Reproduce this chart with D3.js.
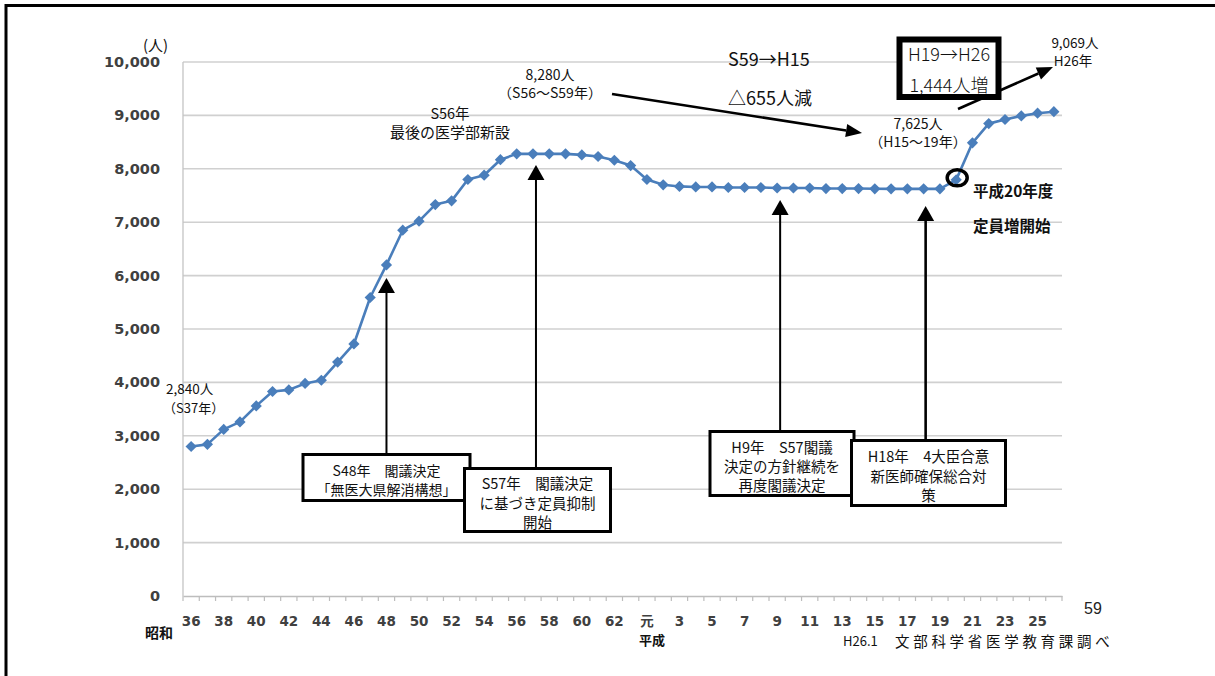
<!DOCTYPE html>
<html>
<head>
<meta charset="utf-8">
<script src="https://cdn.jsdelivr.net/npm/d3@7/dist/d3.min.js"></script>
<style>
  html, body { margin: 0; padding: 0; background: #fff; }
  svg { display: block; }
  .jp { font-family: "Noto Sans CJK JP", "Noto Sans", sans-serif; fill: #111; }
  .num { font-family: "DejaVu Sans", "Noto Sans CJK JP", sans-serif; font-weight: bold; fill: #404040; }
</style>
</head>
<body>
<svg id="chart" width="1215" height="676"></svg>
<script>
// 医学部入学定員の推移（昭和36年〜平成26年）
const categories = [
  "S36","S37","S38","S39","S40","S41","S42","S43","S44","S45",
  "S46","S47","S48","S49","S50","S51","S52","S53","S54","S55",
  "S56","S57","S58","S59","S60","S61","S62","S63","H1","H2",
  "H3","H4","H5","H6","H7","H8","H9","H10","H11","H12",
  "H13","H14","H15","H16","H17","H18","H19","H20","H21","H22",
  "H23","H24","H25","H26"
];
const enrollment = [
  2800, 2840, 3120, 3260, 3560, 3830, 3860, 3980, 4040, 4380,
  4720, 5590, 6200, 6850, 7020, 7330, 7400, 7800, 7880, 8170,
  8280, 8280, 8280, 8280, 8260, 8230, 8160, 8060, 7800, 7700,
  7670, 7660, 7660, 7650, 7650, 7650, 7640, 7640, 7640, 7630,
  7630, 7630, 7625, 7625, 7625, 7625, 7625, 7793, 8486, 8846,
  8923, 8991, 9041, 9069
];
// 軸目盛（1年おき）
const tickCategories = ["S36","S38","S40","S42","S44","S46","S48","S50","S52","S54",
  "S56","S58","S60","S62","H1","H3","H5","H7","H9","H11","H13","H15","H17","H19",
  "H21","H23","H25"];
const tickLabels = ["36","38","40","42","44","46","48","50","52","54",
  "56","58","60","62","元","3","5","7","9","11","13","15","17","19",
  "21","23","25"];
const yTickValues = [0, 1000, 2000, 3000, 4000, 5000, 6000, 7000, 8000, 9000, 10000];

const svg = d3.select("#chart");
const plot = { left: 183, right: 1062, top: 62, bottom: 596 };

const x = d3.scaleBand().domain(categories).range([plot.left, plot.right]);
const cx = c => x(c) + x.bandwidth() / 2;
const y = d3.scaleLinear().domain([0, 10000]).range([plot.bottom, plot.top]);

// 外枠（上・左）
svg.append("path")
  .attr("d", "M6,676V5.5H1215")
  .attr("fill", "none").attr("stroke", "#000").attr("stroke-width", 3);

// 目盛線
svg.append("g").selectAll("line").data(yTickValues.filter(v => v > 0)).join("line")
  .attr("x1", plot.left).attr("x2", plot.right)
  .attr("y1", d => y(d)).attr("y2", d => y(d))
  .attr("stroke", "#d0d0d0").attr("stroke-width", 1.6);

// 縦軸
svg.append("line")
  .attr("x1", plot.left).attr("x2", plot.left)
  .attr("y1", plot.top).attr("y2", plot.bottom)
  .attr("stroke", "#c4c4c4").attr("stroke-width", 1.3);

// 横軸と目盛
const xAxis = d3.axisBottom(x).tickSize(0).tickFormat("");
svg.append("g").attr("transform", `translate(0,${plot.bottom})`).call(xAxis)
  .call(g => g.select(".domain").attr("stroke", "#bdbdbd").attr("stroke-width", 1.6));
svg.append("g").selectAll("line").data(categories.concat([null])).join("line")
  .attr("x1", d => d ? x(d) : plot.right)
  .attr("x2", d => d ? x(d) : plot.right)
  .attr("y1", plot.bottom).attr("y2", plot.bottom + 5)
  .attr("stroke", "#bdbdbd").attr("stroke-width", 1.2);

// 縦軸ラベル
svg.append("g").selectAll("text").data(yTickValues).join("text")
  .attr("class", "num")
  .attr("x", 160).attr("y", d => y(d))
  .attr("text-anchor", "end").attr("dominant-baseline", "central")
  .attr("font-size", 14.5)
  .text(d3.format(","));

// 横軸ラベル
svg.append("g").selectAll("text").data(tickCategories).join("text")
  .attr("class", "num")
  .attr("x", d => cx(d)).attr("y", 621)
  .attr("text-anchor", "middle").attr("dominant-baseline", "central")
  .attr("font-size", 13.5)
  .text((d, i) => tickLabels[i]);

svg.append("text").attr("class", "jp").attr("x", 143).attr("y", 44)
  .attr("dominant-baseline", "central").attr("font-size", 15).attr("fill", "#333")
  .text("(人)");
svg.append("text").attr("class", "jp").attr("x", 159).attr("y", 632)
  .attr("text-anchor", "middle").attr("dominant-baseline", "central")
  .attr("font-size", 14).attr("font-weight", "bold").text("昭和");
svg.append("text").attr("class", "jp").attr("x", cx("H1") + 5).attr("y", 639)
  .attr("text-anchor", "middle").attr("dominant-baseline", "central")
  .attr("font-size", 13).attr("font-weight", "bold").text("平成");
svg.append("text").attr("x", 1093).attr("y", 608)
  .attr("text-anchor", "middle").attr("dominant-baseline", "central")
  .attr("font-family", "Liberation Sans, sans-serif").attr("font-size", 16).attr("fill", "#222")
  .text("59");
svg.append("text").attr("class", "jp").attr("x", 843).attr("y", 640)
  .attr("dominant-baseline", "central").attr("font-size", 13)
  .text("H26.1");
svg.append("text").attr("class", "jp").attr("x", 895).attr("y", 640)
  .attr("dominant-baseline", "central").attr("font-size", 14.5).attr("letter-spacing", 3.7)
  .text("文部科学省医学教育課調べ");

// 折れ線
const lineColor = "#4a7ebb";
svg.append("path")
  .datum(enrollment)
  .attr("fill", "none").attr("stroke", lineColor).attr("stroke-width", 2.6)
  .attr("stroke-linejoin", "round")
  .attr("d", d3.line().x((d, i) => cx(categories[i])).y(d => y(d)));

svg.append("g").selectAll("path").data(enrollment).join("path")
  .attr("transform", (d, i) => `translate(${cx(categories[i])},${y(d)})`)
  .attr("d", "M0,-5.6L5.6,0L0,5.6L-5.6,0Z")
  .attr("fill", lineColor);

// 矢印
function arrow(x1, y1, x2, y2, headLen, headW, width) {
  const a = Math.atan2(y2 - y1, x2 - x1);
  const bx = x2 - headLen * Math.cos(a), by = y2 - headLen * Math.sin(a);
  const nx = -Math.sin(a) * headW / 2, ny = Math.cos(a) * headW / 2;
  svg.append("line").attr("x1", x1).attr("y1", y1).attr("x2", bx).attr("y2", by)
    .attr("stroke", "#000").attr("stroke-width", width);
  svg.append("path")
    .attr("d", `M${x2},${y2}L${bx + nx},${by + ny}L${bx - nx},${by - ny}Z`)
    .attr("fill", "#000");
}

// 注記ボックス
function note(x0, y0, w, h, lines, lineY, size) {
  svg.append("rect").attr("x", x0).attr("y", y0).attr("width", w).attr("height", h)
    .attr("fill", "#fff").attr("stroke", "#000").attr("stroke-width", 3);
  lines.forEach((t, i) => {
    svg.append("text").attr("class", "jp")
      .attr("x", x0 + w / 2).attr("y", lineY[i])
      .attr("text-anchor", "middle").attr("dominant-baseline", "central")
      .attr("font-size", size).text(t);
  });
}

arrow(cx("S48"), 454, cx("S48"), 278, 15, 17, 2);
arrow(cx("S57") + 3, 468, cx("S57") + 3, 165, 15, 17, 2);
arrow(cx("H9") + 3, 431, cx("H9") + 3, 200, 15, 17, 2);
arrow(cx("H18") + 2, 440, cx("H18") + 2, 206, 15, 17, 2.6);

note(303, 454.5, 167, 46, ["S48年　閣議決定", "「無医大県解消構想」"], [470, 489], 14);
note(464.5, 468.5, 146, 63, ["S57年　閣議決定", "に基づき定員抑制", "開始"], [482, 502, 521], 14.5);
note(710, 431.5, 144, 64, ["H9年　S57閣議", "決定の方針継続を", "再度閣議決定"], [446, 465, 484], 14.5);
note(851.5, 440.5, 154, 65, ["H18年　4大臣合意", "新医師確保総合対", "策"], [455, 475, 494], 14.5);

// 上部の注記
function label(tx, ty, t, size, anchor, weight) {
  svg.append("text").attr("class", "jp").attr("x", tx).attr("y", ty)
    .attr("text-anchor", anchor || "middle").attr("dominant-baseline", "central")
    .attr("font-size", size).attr("font-weight", weight || "normal").text(t);
}
label(166, 388, "2,840人", 13.5, "start");
label(163, 407, "（S37年）", 13, "start");
label(450, 112, "S56年", 14.5);
label(450, 131, "最後の医学部新設", 15);
label(550, 74, "8,280人", 14);
label(550, 92, "（S56～S59年）", 14);
label(728, 58, "S59→H15", 18, "start");
label(728, 97, "△655人減", 18, "start");
label(918, 123, "7,625人", 14);
label(918, 141, "（H15～19年）", 14);
label(1075, 42, "9,069人", 13.5);
label(1073, 60, "H26年", 13.5);
label(973, 190, "平成20年度", 15.5, "start", "bold");
label(973, 225, "定員増開始", 15.5, "start", "bold");

arrow(612, 94, 862, 133, 16, 13, 2.6);

// H19→H26 ボックス
arrow(958, 109, 1053, 67, 16, 13, 2.6);
svg.append("rect").attr("x", 899.5).attr("y", 39.5).attr("width", 99).attr("height", 57.5)
  .attr("fill", "#fff").attr("stroke", "#000").attr("stroke-width", 6);
label(949, 53, "H19→H26", 18, "middle", 300);
label(949, 84, "1,444人増", 18, "middle", 300);

// 平成20年度の点を囲む
svg.append("ellipse")
  .attr("cx", cx("H20") + 1).attr("cy", y(7793) - 2)
  .attr("rx", 10).attr("ry", 8)
  .attr("fill", "none").attr("stroke", "#000").attr("stroke-width", 3.5);
</script>
</body>
</html>
